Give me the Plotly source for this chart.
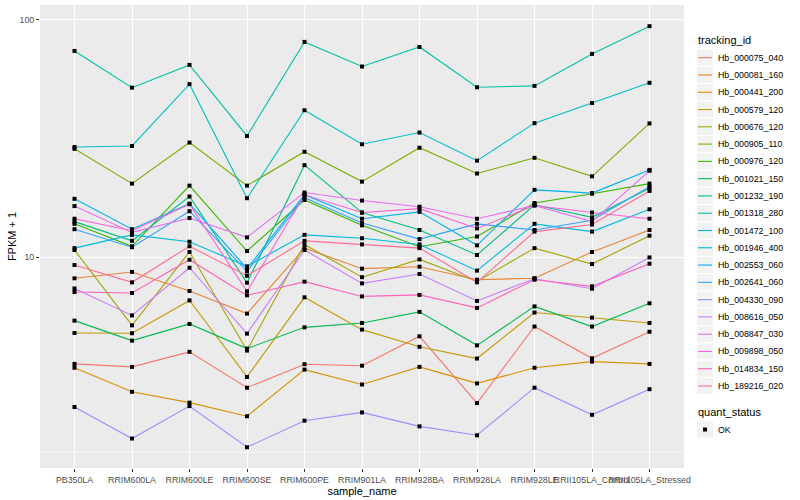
import plotly.graph_objects as go

samples = ["PB350LA", "RRIM600LA", "RRIM600LE", "RRIM600SE", "RRIM600PE", "RRIM901LA",
           "RRIM928BA", "RRIM928LA", "RRIM928LE", "RRII105LA_Control", "RRII105LA_Stressed"]

hb_000075_040 = [3.54, 3.44, 3.98, 2.81, 3.53, 3.48, 4.63, 2.42, 5.09, 3.74, 4.84]
hb_000081_160 = [8.13, 8.65, 7.19, 5.77, 10.9, 8.93, 9.10, 8.02, 8.14, 10.5, 13.0]
hb_000441_200 = [3.41, 2.70, 2.43, 2.13, 3.35, 2.90, 3.44, 2.93, 3.41, 3.62, 3.54]
hb_000579_120 = [4.78, 4.77, 6.56, 3.12, 6.76, 4.94, 4.18, 3.73, 5.83, 5.55, 5.27]
hb_000676_120 = [10.7, 5.15, 10.5, 4.03, 11.3, 8.22, 9.77, 7.89, 10.9, 9.34, 12.3]
hb_000905_110 = [28.6, 20.4, 30.4, 20.0, 27.8, 20.8, 28.9, 22.5, 26.2, 21.9, 36.6]
hb_000976_120 = [13.8, 11.1, 20.0, 10.6, 17.4, 13.6, 11.05, 12.2, 16.9, 18.5, 20.4]
hb_001021_150 = [5.39, 4.44, 5.22, 4.11, 5.05, 5.27, 5.87, 4.24, 6.19, 5.09, 6.38]
hb_001232_190 = [14.1, 11.7, 18.0, 7.79, 24.4, 15.4, 13.0, 10.2, 16.6, 14.7, 19.5]
hb_001318_280 = [74.0, 51.8, 64.6, 32.4, 80.8, 63.6, 76.9, 52.0, 52.7, 71.9, 94.1]
hb_001472_100 = [29.1, 29.4, 53.6, 17.7, 41.6, 29.9, 33.5, 25.5, 36.7, 44.6, 54.3]
hb_001946_400 = [10.9, 12.4, 11.6, 9.13, 12.4, 12.0, 11.3, 8.76, 13.8, 12.8, 15.9]
hb_002553_060 = [17.6, 13.1, 16.8, 8.93, 18.3, 14.5, 15.5, 11.2, 19.2, 18.6, 23.3]
hb_002641_060 = [13.1, 11.0, 15.6, 8.70, 17.8, 13.9, 11.9, 13.8, 13.0, 14.3, 19.8]
hb_004330_090 = [2.33, 1.715, 2.35, 1.576, 2.04, 2.21, 1.93, 1.77, 2.81, 2.16, 2.77]
hb_008616_050 = [7.37, 5.67, 9.01, 4.75, 10.7, 7.74, 8.48, 6.53, 8.10, 7.35, 9.96]
hb_008847_030 = [16.4, 12.7, 14.6, 12.1, 18.7, 17.3, 16.3, 14.5, 16.5, 14.1, 23.1]
hb_009898_050 = [14.5, 12.9, 16.7, 7.16, 18.3, 15.4, 16.0, 13.2, 16.5, 15.4, 14.5]
hb_014834_150 = [7.12, 7.05, 9.74, 6.89, 7.87, 6.82, 6.92, 6.10, 8.02, 7.52, 9.37]
hb_189216_020 = [9.25, 7.82, 11.1, 8.34, 11.7, 11.3, 10.9, 7.82, 12.8, 13.7, 19.0]

tracking_ids = ["Hb_000075_040", "Hb_000081_160", "Hb_000441_200", "Hb_000579_120",
                "Hb_000676_120", "Hb_000905_110", "Hb_000976_120", "Hb_001021_150",
                "Hb_001232_190", "Hb_001318_280", "Hb_001472_100", "Hb_001946_400",
                "Hb_002553_060", "Hb_002641_060", "Hb_004330_090", "Hb_008616_050",
                "Hb_008847_030", "Hb_009898_050", "Hb_014834_150", "Hb_189216_020"]

series_values = [hb_000075_040, hb_000081_160, hb_000441_200, hb_000579_120,
                 hb_000676_120, hb_000905_110, hb_000976_120, hb_001021_150,
                 hb_001232_190, hb_001318_280, hb_001472_100, hb_001946_400,
                 hb_002553_060, hb_002641_060, hb_004330_090, hb_008616_050,
                 hb_008847_030, hb_009898_050, hb_014834_150, hb_189216_020]

palette = ["#F8766D", "#EA8331", "#D89000", "#C09B00", "#A3A500", "#7CAE00", "#39B600",
           "#00BB4E", "#00BF7D", "#00C1A3", "#00BFC4", "#00BAE0", "#00B0F6", "#35A2FF",
           "#9590FF", "#C77CFF", "#E76BF3", "#FA62DB", "#FF62BC", "#FF6C91"]

quant_status = "OK"

# ---- figure geometry (pixels) ----
W, H = 800, 500
L, R, T, B = 40, 116, 5, 32
PW, PH = W - L - R, H - T - B


def px_x(p):
    return (p - L) / PW


def px_y(p):
    return (H - B - p) / PH


fig = go.Figure()
for name, vals, col in zip(tracking_ids, series_values, palette):
    fig.add_trace(go.Scatter(x=samples, y=vals, mode="lines", name=name,
                             line=dict(color=col, width=1.1), showlegend=False))

all_x = [s for vals in series_values for s in samples]
all_y = [v for vals in series_values for v in vals]
fig.add_trace(go.Scatter(x=all_x, y=all_y, mode="markers", name=quant_status,
                         marker=dict(color="black", symbol="square", size=4),
                         showlegend=False))

font_family = "Liberation Sans, Arial, Helvetica, sans-serif"

# ---- hand-built ggplot-style legend ----
shapes = [dict(type="line", xref="paper", x0=0, x1=1, yref="y", y0=0.5, y1=0.5,
               line=dict(color="white", width=0.6), layer="below"),
          dict(type="line", xref="paper", x0=0, x1=1, yref="y", y0=1.5, y1=1.5,
               line=dict(color="white", width=0.6), layer="below")]
annotations = []

key_x0, key_x1 = 696.5, 713.5
key_h = 17.28
first_c = 57.7
text_x = 715.5

annotations.append(dict(text="tracking_id", xref="paper", yref="paper",
                        x=px_x(695.5), y=px_y(40.5), xanchor="left", yanchor="middle",
                        showarrow=False, font=dict(size=11, color="black")))
for i, (name, col) in enumerate(zip(tracking_ids, palette)):
    c = first_c + i * key_h
    shapes.append(dict(type="rect", xref="paper", yref="paper",
                       x0=px_x(key_x0), x1=px_x(key_x1),
                       y0=px_y(c - key_h / 2), y1=px_y(c + key_h / 2),
                       fillcolor="#F2F2F2", line=dict(color="white", width=1)))
    shapes.append(dict(type="line", xref="paper", yref="paper",
                       x0=px_x(698), x1=px_x(712), y0=px_y(c), y1=px_y(c),
                       line=dict(color=col, width=1.1)))
    annotations.append(dict(text=name, xref="paper", yref="paper",
                            x=px_x(text_x), y=px_y(c), xanchor="left", yanchor="middle",
                            showarrow=False, font=dict(size=8.8, color="black")))

annotations.append(dict(text="quant_status", xref="paper", yref="paper",
                        x=px_x(695.5), y=px_y(412.3), xanchor="left", yanchor="middle",
                        showarrow=False, font=dict(size=11, color="black")))
ok_c = 429.5
shapes.append(dict(type="rect", xref="paper", yref="paper",
                   x0=px_x(key_x0), x1=px_x(key_x1),
                   y0=px_y(ok_c - key_h / 2), y1=px_y(ok_c + key_h / 2),
                   fillcolor="#F2F2F2", line=dict(color="white", width=1)))
shapes.append(dict(type="rect", xref="paper", yref="paper",
                   x0=px_x(703), x1=px_x(707), y0=px_y(ok_c - 2), y1=px_y(ok_c + 2),
                   fillcolor="black", line=dict(width=0)))
annotations.append(dict(text=quant_status, xref="paper", yref="paper",
                        x=px_x(text_x), y=px_y(ok_c), xanchor="left", yanchor="middle",
                        showarrow=False, font=dict(size=8.8, color="black")))

fig.update_layout(
    width=W, height=H,
    margin=dict(l=L, r=R, t=T, b=B, autoexpand=False),
    paper_bgcolor="white", plot_bgcolor="#EBEBEB",
    font=dict(family=font_family, size=9, color="#4D4D4D"),
    showlegend=False,
    shapes=shapes,
    annotations=annotations,
)

fig.update_xaxes(type="category", categoryorder="array", categoryarray=samples,
                 range=[-0.6, 10.6], showgrid=True, gridcolor="white", gridwidth=1.1,
                 ticks="outside", ticklen=3, tickcolor="#333333", tickangle=0,
                 tickfont=dict(size=8.8, color="#4D4D4D"), zeroline=False, showline=False,
                 automargin=False,
                 title=dict(text="sample_name", font=dict(size=11, color="black"), standoff=0))
fig.update_yaxes(type="log", range=[0.11, 2.063], tickvals=[10, 100], ticktext=["10", "100"],
                 showgrid=True, gridcolor="white", gridwidth=1.1,
                 ticks="outside", ticklen=3, tickcolor="#333333",
                 tickfont=dict(size=8.8, color="#4D4D4D"), zeroline=False, showline=False,
                 automargin=False,
                 title=dict(text="FPKM + 1", font=dict(size=11, color="black"), standoff=0))

fig.write_html("out.html",
               config={"displayModeBar": False},
               post_script="document.body.style.margin='0px';"
                           "document.body.style.padding='0px';"
                           "document.body.style.overflow='hidden';")
